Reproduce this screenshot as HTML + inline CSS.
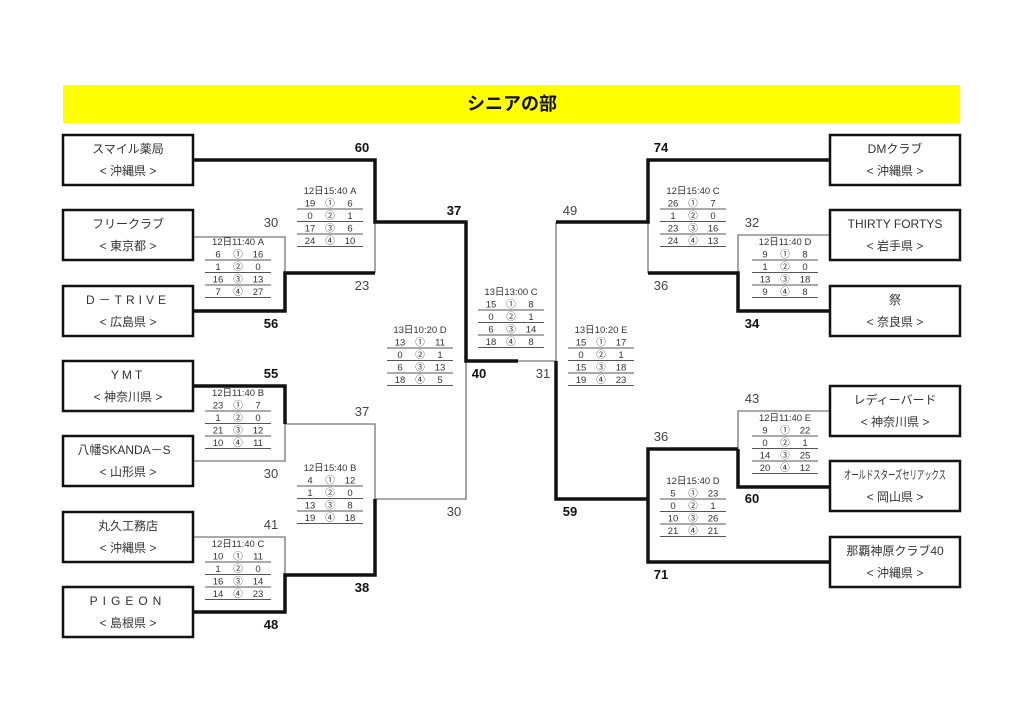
<!DOCTYPE html>
<html><head><meta charset="utf-8"><style>
html,body{margin:0;padding:0;background:#fff;}
svg{display:block;font-family:"Liberation Sans","Noto Sans CJK JP",sans-serif;}
.b{fill:#fff;stroke:#111;stroke-width:2.5}
.bt{font-size:12px;fill:#333;text-anchor:middle}
.k{stroke:#111;stroke-width:3.5;fill:none}
.t{stroke:#777;stroke-width:1.3;fill:none}
.sc{font-size:13px;fill:#444}
.sb{font-size:13px;font-weight:bold;fill:#111}
.tb text{font-size:9.5px;fill:#333;text-anchor:middle}
.tb line{stroke:#555;stroke-width:1}
</style></head><body>
<svg width="1024" height="724" viewBox="0 0 1024 724">
<rect x="63" y="85" width="897" height="38" fill="#ffff00"/>
<text x="512" y="110" font-size="18" font-weight="bold" text-anchor="middle" fill="#111">シニアの部</text>

<path class="t" d="M193 237H285V273 M375 222V273 M193 461H285V424 M285 424H375V499 M193 537H285V575 M375 499H466V361 M518 361H556V222 M830 235H738V273 M648 222V273 M830 411H738V449"/>
<path class="k" d="M193 160H375V222H466V361H518 M193 311H285V273H375 M193 386H285V424 M193 612H285V575H375V499 M556 361V499H648 M830 160H648V222H556 M648 273H738V311H830 M738 449V487H830 M738 449H648V562H830"/>

<rect class="b" x="63" y="135" width="130" height="50"/><text class="bt" x="128" y="153">スマイル薬局</text><text class="bt" x="128" y="175">&lt; 沖縄県 &gt;</text>
<rect class="b" x="63" y="210" width="130" height="50"/><text class="bt" x="128" y="228">フリークラブ</text><text class="bt" x="128" y="250">&lt; 東京都 &gt;</text>
<rect class="b" x="63" y="286" width="130" height="50"/><text class="bt" x="128" y="304" letter-spacing="4">D－TRIVE</text><text class="bt" x="128" y="326">&lt; 広島県 &gt;</text>
<rect class="b" x="63" y="361" width="130" height="50"/><text class="bt" x="128" y="379" letter-spacing="3">YMT</text><text class="bt" x="128" y="401">&lt; 神奈川県 &gt;</text>
<rect class="b" x="63" y="436" width="130" height="50"/><text class="bt" x="124" y="454">八幡SKANDA－S</text><text class="bt" x="128" y="476">&lt; 山形県 &gt;</text>
<rect class="b" x="63" y="512" width="130" height="50"/><text class="bt" x="128" y="530">丸久工務店</text><text class="bt" x="128" y="552">&lt; 沖縄県 &gt;</text>
<rect class="b" x="63" y="587" width="130" height="50"/><text class="bt" x="128" y="605" letter-spacing="5">PIGEON</text><text class="bt" x="128" y="627">&lt; 島根県 &gt;</text>

<rect class="b" x="830" y="135" width="130" height="50"/><text class="bt" x="895" y="153">DMクラブ</text><text class="bt" x="895" y="175">&lt; 沖縄県 &gt;</text>
<rect class="b" x="830" y="210" width="130" height="50"/><text class="bt" x="895" y="228">THIRTY FORTYS</text><text class="bt" x="895" y="250">&lt; 岩手県 &gt;</text>
<rect class="b" x="830" y="286" width="130" height="50"/><text class="bt" x="895" y="304">祭</text><text class="bt" x="895" y="326">&lt; 奈良県 &gt;</text>
<rect class="b" x="830" y="386" width="130" height="50"/><text class="bt" x="895" y="404">レディーバード</text><text class="bt" x="895" y="426">&lt; 神奈川県 &gt;</text>
<rect class="b" x="830" y="461" width="130" height="50"/><text class="bt" x="895" y="479" font-size="10" textLength="102" lengthAdjust="spacingAndGlyphs">オールドスターズセリアックス</text><text class="bt" x="895" y="501">&lt; 岡山県 &gt;</text>
<rect class="b" x="830" y="537" width="130" height="50"/><text class="bt" x="895" y="555">那覇神原クラブ40</text><text class="bt" x="895" y="577">&lt; 沖縄県 &gt;</text>

<g text-anchor="middle">
<text class="sb" x="362" y="152">60</text><text class="sc" x="271" y="227">30</text><text class="sc" x="362" y="290">23</text><text class="sb" x="271" y="328">56</text>
<text class="sb" x="454" y="215">37</text><text class="sb" x="271" y="378">55</text><text class="sc" x="362" y="416">37</text><text class="sc" x="271" y="478">30</text>
<text class="sc" x="271" y="529">41</text><text class="sc" x="454" y="516">30</text><text class="sb" x="362" y="592">38</text><text class="sb" x="271" y="629">48</text>
<text class="sb" x="479" y="378">40</text><text class="sc" x="543" y="378">31</text>
<text class="sb" x="661" y="152">74</text><text class="sc" x="570" y="215">49</text><text class="sc" x="752" y="227">32</text><text class="sc" x="661" y="290">36</text>
<text class="sb" x="752" y="328">34</text><text class="sc" x="752" y="403">43</text><text class="sc" x="661" y="441">36</text><text class="sb" x="752" y="503">60</text>
<text class="sb" x="570" y="516">59</text><text class="sb" x="661" y="579">71</text>
</g>

<g class="tb" transform="translate(238,245)"><text x="0" y="0">12日11:40 A</text>
<text x="-20" y="12.5">6</text><text y="12.5">①</text><text x="20" y="12.5">16</text>
<text x="-20" y="25">1</text><text y="25">②</text><text x="20" y="25">0</text>
<text x="-20" y="37.5">16</text><text y="37.5">③</text><text x="20" y="37.5">13</text>
<text x="-20" y="50">7</text><text y="50">④</text><text x="20" y="50">27</text>
<line x1="-33" x2="33" y1="15" y2="15"/><line x1="-33" x2="33" y1="27.5" y2="27.5"/><line x1="-33" x2="33" y1="40" y2="40"/><line x1="-33" x2="33" y1="52.5" y2="52.5"/></g>

<g class="tb" transform="translate(330,194)"><text>12日15:40 A</text>
<text x="-20" y="12.5">19</text><text y="12.5">①</text><text x="20" y="12.5">6</text>
<text x="-20" y="25">0</text><text y="25">②</text><text x="20" y="25">1</text>
<text x="-20" y="37.5">17</text><text y="37.5">③</text><text x="20" y="37.5">6</text>
<text x="-20" y="50">24</text><text y="50">④</text><text x="20" y="50">10</text>
<line x1="-33" x2="33" y1="15" y2="15"/><line x1="-33" x2="33" y1="27.5" y2="27.5"/><line x1="-33" x2="33" y1="40" y2="40"/><line x1="-33" x2="33" y1="52.5" y2="52.5"/></g>

<g class="tb" transform="translate(238,396)"><text>12日11:40 B</text>
<text x="-20" y="12.5">23</text><text y="12.5">①</text><text x="20" y="12.5">7</text>
<text x="-20" y="25">1</text><text y="25">②</text><text x="20" y="25">0</text>
<text x="-20" y="37.5">21</text><text y="37.5">③</text><text x="20" y="37.5">12</text>
<text x="-20" y="50">10</text><text y="50">④</text><text x="20" y="50">11</text>
<line x1="-33" x2="33" y1="15" y2="15"/><line x1="-33" x2="33" y1="27.5" y2="27.5"/><line x1="-33" x2="33" y1="40" y2="40"/><line x1="-33" x2="33" y1="52.5" y2="52.5"/></g>

<g class="tb" transform="translate(330,471)"><text>12日15:40 B</text>
<text x="-20" y="12.5">4</text><text y="12.5">①</text><text x="20" y="12.5">12</text>
<text x="-20" y="25">1</text><text y="25">②</text><text x="20" y="25">0</text>
<text x="-20" y="37.5">13</text><text y="37.5">③</text><text x="20" y="37.5">8</text>
<text x="-20" y="50">19</text><text y="50">④</text><text x="20" y="50">18</text>
<line x1="-33" x2="33" y1="15" y2="15"/><line x1="-33" x2="33" y1="27.5" y2="27.5"/><line x1="-33" x2="33" y1="40" y2="40"/><line x1="-33" x2="33" y1="52.5" y2="52.5"/></g>

<g class="tb" transform="translate(238,547)"><text>12日11:40 C</text>
<text x="-20" y="12.5">10</text><text y="12.5">①</text><text x="20" y="12.5">11</text>
<text x="-20" y="25">1</text><text y="25">②</text><text x="20" y="25">0</text>
<text x="-20" y="37.5">16</text><text y="37.5">③</text><text x="20" y="37.5">14</text>
<text x="-20" y="50">14</text><text y="50">④</text><text x="20" y="50">23</text>
<line x1="-33" x2="33" y1="15" y2="15"/><line x1="-33" x2="33" y1="27.5" y2="27.5"/><line x1="-33" x2="33" y1="40" y2="40"/><line x1="-33" x2="33" y1="52.5" y2="52.5"/></g>

<g class="tb" transform="translate(420,333)"><text>13日10:20 D</text>
<text x="-20" y="12.5">13</text><text y="12.5">①</text><text x="20" y="12.5">11</text>
<text x="-20" y="25">0</text><text y="25">②</text><text x="20" y="25">1</text>
<text x="-20" y="37.5">6</text><text y="37.5">③</text><text x="20" y="37.5">13</text>
<text x="-20" y="50">18</text><text y="50">④</text><text x="20" y="50">5</text>
<line x1="-33" x2="33" y1="15" y2="15"/><line x1="-33" x2="33" y1="27.5" y2="27.5"/><line x1="-33" x2="33" y1="40" y2="40"/><line x1="-33" x2="33" y1="52.5" y2="52.5"/></g>

<g class="tb" transform="translate(511,295)"><text>13日13:00 C</text>
<text x="-20" y="12.5">15</text><text y="12.5">①</text><text x="20" y="12.5">8</text>
<text x="-20" y="25">0</text><text y="25">②</text><text x="20" y="25">1</text>
<text x="-20" y="37.5">6</text><text y="37.5">③</text><text x="20" y="37.5">14</text>
<text x="-20" y="50">18</text><text y="50">④</text><text x="20" y="50">8</text>
<line x1="-33" x2="33" y1="15" y2="15"/><line x1="-33" x2="33" y1="27.5" y2="27.5"/><line x1="-33" x2="33" y1="40" y2="40"/><line x1="-33" x2="33" y1="52.5" y2="52.5"/></g>

<g class="tb" transform="translate(601,333)"><text>13日10:20 E</text>
<text x="-20" y="12.5">15</text><text y="12.5">①</text><text x="20" y="12.5">17</text>
<text x="-20" y="25">0</text><text y="25">②</text><text x="20" y="25">1</text>
<text x="-20" y="37.5">15</text><text y="37.5">③</text><text x="20" y="37.5">18</text>
<text x="-20" y="50">19</text><text y="50">④</text><text x="20" y="50">23</text>
<line x1="-33" x2="33" y1="15" y2="15"/><line x1="-33" x2="33" y1="27.5" y2="27.5"/><line x1="-33" x2="33" y1="40" y2="40"/><line x1="-33" x2="33" y1="52.5" y2="52.5"/></g>

<g class="tb" transform="translate(693,194)"><text>12日15:40 C</text>
<text x="-20" y="12.5">26</text><text y="12.5">①</text><text x="20" y="12.5">7</text>
<text x="-20" y="25">1</text><text y="25">②</text><text x="20" y="25">0</text>
<text x="-20" y="37.5">23</text><text y="37.5">③</text><text x="20" y="37.5">16</text>
<text x="-20" y="50">24</text><text y="50">④</text><text x="20" y="50">13</text>
<line x1="-33" x2="33" y1="15" y2="15"/><line x1="-33" x2="33" y1="27.5" y2="27.5"/><line x1="-33" x2="33" y1="40" y2="40"/><line x1="-33" x2="33" y1="52.5" y2="52.5"/></g>

<g class="tb" transform="translate(785,245)"><text>12日11:40 D</text>
<text x="-20" y="12.5">9</text><text y="12.5">①</text><text x="20" y="12.5">8</text>
<text x="-20" y="25">1</text><text y="25">②</text><text x="20" y="25">0</text>
<text x="-20" y="37.5">13</text><text y="37.5">③</text><text x="20" y="37.5">18</text>
<text x="-20" y="50">9</text><text y="50">④</text><text x="20" y="50">8</text>
<line x1="-33" x2="33" y1="15" y2="15"/><line x1="-33" x2="33" y1="27.5" y2="27.5"/><line x1="-33" x2="33" y1="40" y2="40"/><line x1="-33" x2="33" y1="52.5" y2="52.5"/></g>

<g class="tb" transform="translate(785,421)"><text>12日11:40 E</text>
<text x="-20" y="12.5">9</text><text y="12.5">①</text><text x="20" y="12.5">22</text>
<text x="-20" y="25">0</text><text y="25">②</text><text x="20" y="25">1</text>
<text x="-20" y="37.5">14</text><text y="37.5">③</text><text x="20" y="37.5">25</text>
<text x="-20" y="50">20</text><text y="50">④</text><text x="20" y="50">12</text>
<line x1="-33" x2="33" y1="15" y2="15"/><line x1="-33" x2="33" y1="27.5" y2="27.5"/><line x1="-33" x2="33" y1="40" y2="40"/><line x1="-33" x2="33" y1="52.5" y2="52.5"/></g>

<g class="tb" transform="translate(693,484)"><text>12日15:40 D</text>
<text x="-20" y="12.5">5</text><text y="12.5">①</text><text x="20" y="12.5">23</text>
<text x="-20" y="25">0</text><text y="25">②</text><text x="20" y="25">1</text>
<text x="-20" y="37.5">10</text><text y="37.5">③</text><text x="20" y="37.5">26</text>
<text x="-20" y="50">21</text><text y="50">④</text><text x="20" y="50">21</text>
<line x1="-33" x2="33" y1="15" y2="15"/><line x1="-33" x2="33" y1="27.5" y2="27.5"/><line x1="-33" x2="33" y1="40" y2="40"/><line x1="-33" x2="33" y1="52.5" y2="52.5"/></g>
</svg>
</body></html>
